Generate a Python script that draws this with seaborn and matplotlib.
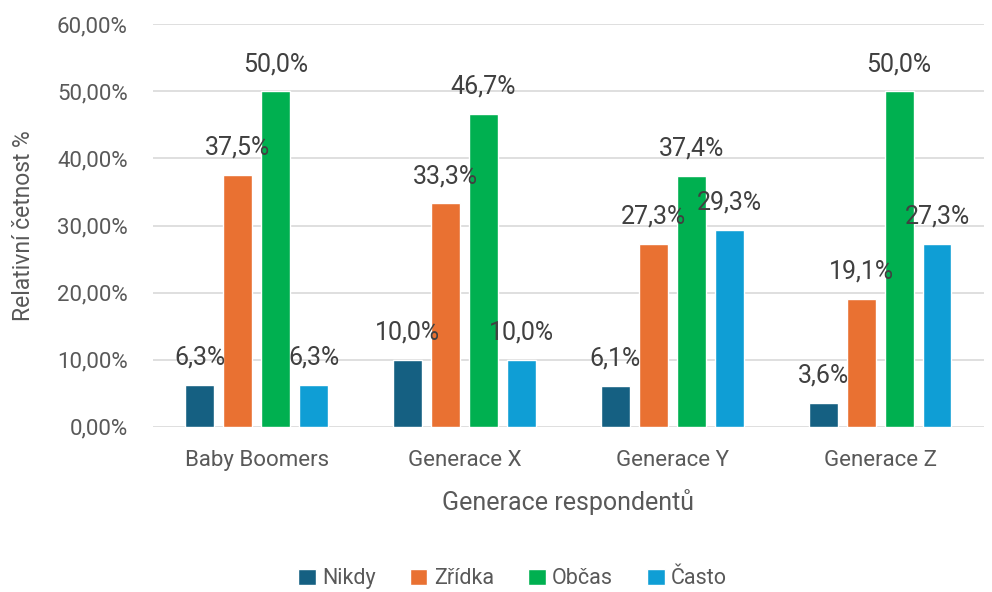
import matplotlib
matplotlib.use("Agg")
import matplotlib.pyplot as plt
import matplotlib.ticker as mticker
import pandas as pd
import seaborn as sns

categories = ["Baby Boomers", "Generace X", "Generace Y", "Generace Z"]
series = ["Nikdy", "Zřídka", "Občas", "Často"]
nikdy = [6.3, 10.0, 6.1, 3.6]
zridka = [37.5, 33.3, 27.3, 19.1]
obcas = [50.0, 46.7, 37.4, 50.0]
casto = [6.3, 10.0, 29.3, 27.3]
colors = ["#156082", "#E97132", "#00B050", "#0F9ED5"]

rows = []
for s, vals in zip(series, [nikdy, zridka, obcas, casto]):
    for c, v in zip(categories, vals):
        rows.append({"Generace": c, "Odpověď": s, "Hodnota": v})
df = pd.DataFrame(rows)

sns.set_theme(style="white")
plt.rcParams["font.family"] = ["Roboto", "DejaVu Sans"]

fig = plt.figure(figsize=(9.92, 5.92), dpi=100)
ax = fig.add_axes([0.154, 0.279, 0.838, 0.68])

sns.barplot(data=df, x="Generace", y="Hodnota", hue="Odpověď",
            order=categories, hue_order=series, palette=colors, saturation=1,
            width=0.73, gap=0.24, errorbar=None, ax=ax, zorder=3)

# popisky hodnot nad sloupci
for cont in ax.containers:
    labels = [f"{b.get_height():.1f}".replace(".", ",") + "%" for b in cont]
    ax.bar_label(cont, labels=labels, padding=11, fontsize=18, color="#404040")

ax.set_xlim(-0.5, 3.5)
ax.set_ylim(0, 60)
ax.set_yticks(range(0, 61, 10))
ax.yaxis.set_major_formatter(mticker.FuncFormatter(lambda v, p: f"{v:.2f}".replace(".", ",") + "%"))
ax.grid(axis="y", color="#D9D9D9", linewidth=1.2, zorder=0)
ax.set_axisbelow(True)
sns.despine(ax=ax, left=True, bottom=True)
ax.tick_params(axis="both", length=0, labelsize=16, labelcolor="#595959")
ax.tick_params(axis="x", pad=17)
ax.tick_params(axis="y", pad=18)
ax.set_ylabel("Relativní četnost %", fontsize=16.5, color="#595959", labelpad=16)
ax.set_xlabel("Generace respondentů", fontsize=18, color="#595959", labelpad=13)

handles, labs = ax.get_legend_handles_labels()
ax.legend(handles, labs, loc="lower center", bbox_to_anchor=(0.5 - 0.154 / 2 + 0.01, -0.452),
          ncol=4, frameon=False, fontsize=15.5, labelcolor="#595959",
          handlelength=0.8, handleheight=0.8, handletextpad=0.3, columnspacing=1.6)

fig.savefig("out.png", dpi=100)
